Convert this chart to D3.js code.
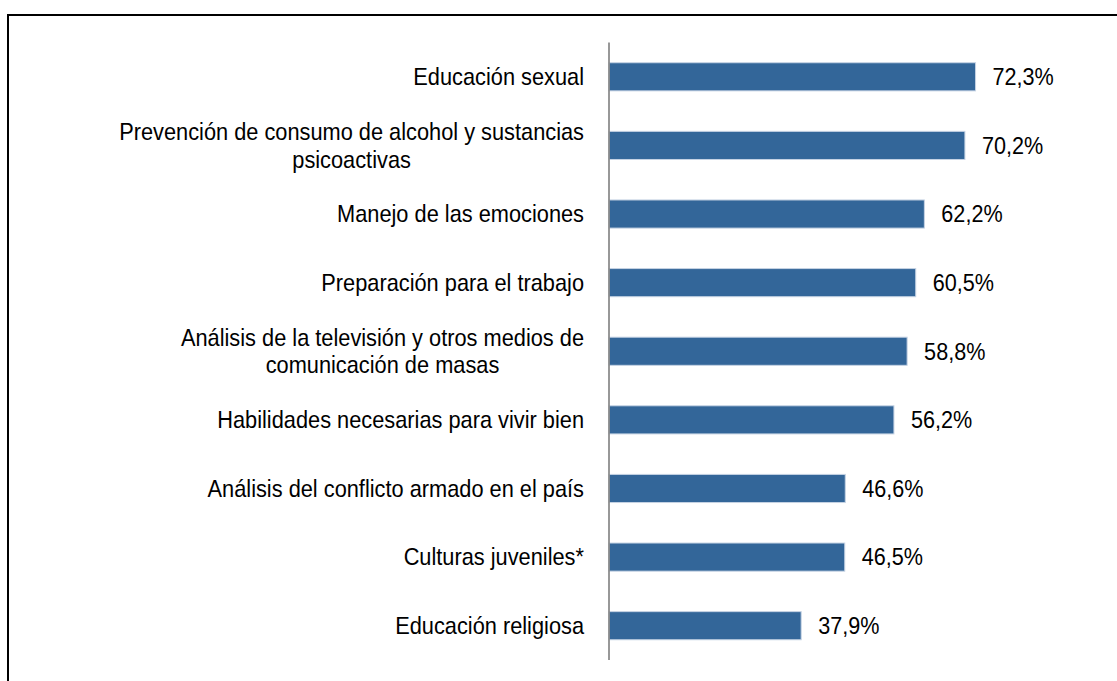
<html><head>
<meta charset="UTF-8">
<title>Temas de interés</title>
<script src="https://cdn.jsdelivr.net/npm/d3@7"></script>
<style>
  body {
    margin: 0;
    background-color: #fff;
  }
  text {
    font-family: "Liberation Sans", Arial, sans-serif;
    font-size: 24px;
    fill: #000;
  }
</style>
</head>
<body>
  <div id="chart"></div>
  <script>
    // categories (each entry is a list of label lines) and values in %
    const categories = [
      ["Educación sexual"],
      ["Prevención de consumo de alcohol y sustancias", "psicoactivas"],
      ["Manejo de las emociones"],
      ["Preparación para el trabajo"],
      ["Análisis de la televisión y otros medios de", "comunicación de masas"],
      ["Habilidades necesarias para vivir bien"],
      ["Análisis del conflicto armado en el país"],
      ["Culturas juveniles*"],
      ["Educación religiosa"]
    ];
    const values = [72.3, 70.2, 62.2, 60.5, 58.8, 56.2, 46.6, 46.5, 37.9];
    const xDomain = [0, 100];

    const width = 1117;
    const height = 681;
    const axisX = 609;
    const narrow = 0.908; // the original uses a narrow face

    const svg = d3.select("#chart")
      .append("svg")
      .attr("width", width)
      .attr("height", height);

    // outer frame
    svg.append("rect")
      .attr("x", 8)
      .attr("y", 15)
      .attr("width", width + 10)
      .attr("height", height + 10)
      .attr("fill", "none")
      .attr("stroke", "#000")
      .attr("stroke-width", 2);

    const x = d3.scaleLinear().domain(xDomain).range([axisX, 1116]);
    const y = d3.scaleBand()
      .domain(d3.range(categories.length))
      .range([42.5, 660])
      .paddingInner(0.59)
      .paddingOuter(0.295);

    svg.selectAll("rect.bar")
      .data(values)
      .enter()
      .append("rect")
      .attr("class", "bar")
      .attr("x", x(0))
      .attr("y", (d, i) => y(i))
      .attr("width", d => x(d) - x(0))
      .attr("height", y.bandwidth())
      .attr("fill", "#336699")
      .attr("stroke", "#c6d3e4")
      .attr("stroke-width", 1);

    // value labels
    svg.selectAll("g.val")
      .data(values)
      .enter()
      .append("g")
      .attr("class", "val")
      .attr("transform", (d, i) => `translate(${x(d) + 17},${y(i) + y.bandwidth() / 2}) scale(0.9,1)`)
      .append("text")
      .attr("dy", "0.35em")
      .text(d => d.toFixed(1).replace(".", ",") + "%");

    // category labels, lines centred on each other, block right-aligned
    const lineH = 27.5;
    const labelRight = 584;
    categories.forEach((lines, i) => {
      const cy = y(i) + y.bandwidth() / 2;
      const g = svg.append("g")
        .attr("transform", `translate(${labelRight},${cy}) scale(${narrow},1)`);
      const t = g.append("text").attr("text-anchor", "middle");
      const spans = lines.map((s, j) => t.append("tspan")
        .attr("y", (j - (lines.length - 1) / 2) * lineH)
        .attr("dy", "0.35em")
        .text(s));
      const maxW = d3.max(spans, s => s.node().getComputedTextLength());
      spans.forEach(s => s.attr("x", -maxW / 2));
    });

    // vertical category axis
    svg.append("line")
      .attr("x1", axisX)
      .attr("x2", axisX)
      .attr("y1", 42.5)
      .attr("y2", 660)
      .attr("stroke", "#868686")
      .attr("stroke-width", 1.7);
  </script>
</body>
</html>
